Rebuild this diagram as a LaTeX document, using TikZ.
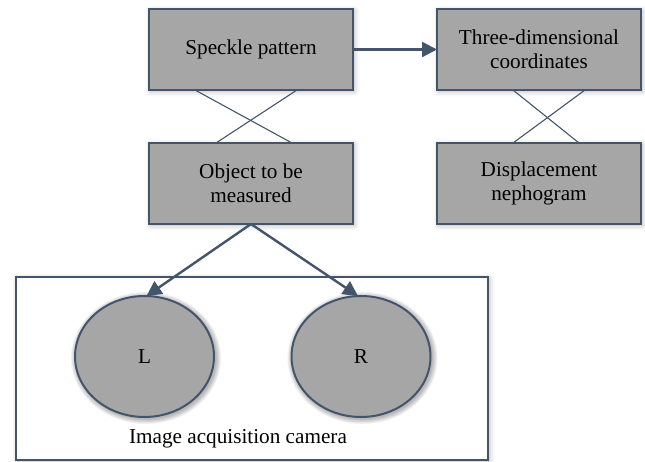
\documentclass[tikz,border=0pt]{standalone}
\usepackage{fontspec}
\setmainfont{Liberation Serif}
\usetikzlibrary{arrows.meta,shapes.geometric,shadows.blur}
\definecolor{edgeblue}{HTML}{44546A}
\definecolor{boxgray}{HTML}{A6A6A6}
\begin{document}
\begin{tikzpicture}[x=1pt,y=-1pt,
  every node/.style={font=\fontsize{21.2}{24.5}\selectfont, outer sep=0pt, align=center},
  soft/.style={blur shadow={shadow xshift=1.5pt, shadow yshift=-1.5pt, shadow blur radius=5pt, shadow opacity=30}},
  stepbox/.style={draw=edgeblue, line width=2pt, fill=boxgray, minimum width=204pt, minimum height=81pt, soft},
  lens/.style={ellipse, draw=edgeblue, line width=2pt, fill=boxgray, minimum width=139pt, minimum height=121pt},
  cross/.style={draw=edgeblue, line width=1.1pt},
  link/.style={draw=edgeblue, line width=2.4pt, -{Triangle[length=15pt,width=15pt]}}]
  \useasboundingbox (0,0) rectangle (645,462);

  % outer frame of the camera pair
  \node[draw=edgeblue, line width=2pt, fill=white, minimum width=472pt, minimum height=183pt, soft] (frame) at (252,368.5) {};
  \node (caption) at (238,439) {Image acquisition camera};

  % soft shadows under the two cameras
  \coordinate (lc) at (144.5,356.5);
  \coordinate (rc) at (361,356.5);
  \foreach \c in {lc,rc}{
    \foreach \k in {1,...,7}{
      \fill[black, opacity=0.045] ([xshift=1.5pt,yshift=-1.5pt]\c) ellipse ({69.5+\k*0.8} and {60.5+\k*0.8});
    }
  }

  % process boxes
  \node[stepbox] (speckle) at (251,49.5) {\raisebox{-3pt}{Speckle pattern}};
  \node[stepbox] (object) at (251,183.5) {Object to be\\measured};
  \node[stepbox] (coords) at (539,49.5) {Three-dimensional\\coordinates};
  \node[stepbox] (neph) at (539,183.5) {Displacement\\nephogram};

  % the two cameras
  \node[lens] (L) at (lc) {L};
  \node[lens] (R) at (rc) {R};

  % crossed links between stacked boxes
  \draw[cross] ([xshift=46pt]speckle.south west) -- ([xshift=143pt]object.north west);
  \draw[cross] ([xshift=148pt]speckle.south west) -- ([xshift=67pt]object.north west);
  \draw[cross] ([xshift=76pt]coords.south west) -- ([xshift=142pt]neph.north west);
  \draw[cross] ([xshift=148pt]coords.south west) -- ([xshift=76pt]neph.north west);

  % arrows
  \draw[link] (speckle.east) -- (coords.west);
  \draw[link] (object.south) -- ([xshift=2pt]L.north);
  \draw[link] (object.south) -- ([xshift=-3pt]R.north);
\end{tikzpicture}
\end{document}
